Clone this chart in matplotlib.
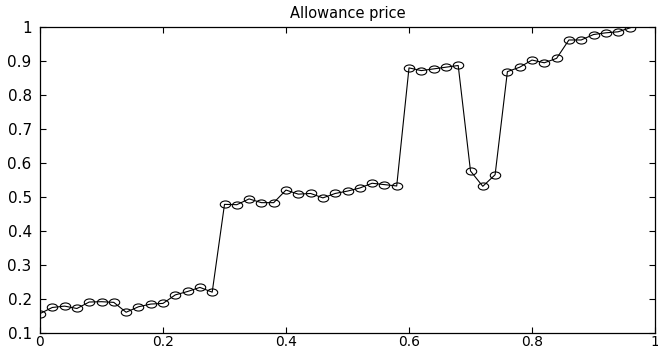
import matplotlib
matplotlib.use('Agg')
import matplotlib.pyplot as plt
from matplotlib.path import Path
from matplotlib.transforms import Affine2D

# sample points 0, 0.02, ..., 0.96
x = [i / 50 for i in range(49)]
price = [0.157, 0.175, 0.179, 0.172, 0.191, 0.192, 0.190, 0.161, 0.177, 0.185,
         0.187, 0.212, 0.222, 0.234, 0.220, 0.478, 0.477, 0.494, 0.483, 0.483,
         0.520, 0.508, 0.510, 0.497, 0.510, 0.517, 0.526, 0.540, 0.536, 0.532,
         0.879, 0.871, 0.876, 0.881, 0.886, 0.576, 0.531, 0.565, 0.868, 0.881,
         0.902, 0.894, 0.907, 0.961, 0.961, 0.977, 0.982, 0.985, 0.997]
xticks = [0, 0.2, 0.4, 0.6, 0.8, 1]
xtick_labels = ['0', '0.2', '0.4', '0.6', '0.8', '1']
yticks = [0.1, 0.2, 0.3, 0.4, 0.5, 0.6, 0.7, 0.8, 0.9, 1]
ytick_labels = ['0.1', '0.2', '0.3', '0.4', '0.5', '0.6', '0.7', '0.8', '0.9', '1']

plt.rcParams['font.family'] = 'DejaVu Sans'

# squashed circle, like the stretched matlab markers
ellipse = Path.unit_circle().transformed(Affine2D().scale(1, 0.68))

fig = plt.figure(figsize=(6.58, 3.48), dpi=100)
ax = fig.add_axes([40 / 658, 15 / 348, 615 / 658, 306.3 / 348])
ax.plot(x, price, color='black', linewidth=0.8, marker=ellipse,
        markersize=7.5, markerfacecolor='none', markeredgecolor='black',
        markeredgewidth=0.8)

ax.set_xlim(0, 1)
ax.set_ylim(0.1, 1)
ax.set_xticks(xticks)
ax.set_xticklabels(xtick_labels)
ax.set_yticks(yticks)
ax.set_yticklabels(ytick_labels)
ax.tick_params(direction='in', length=4, width=0.8, top=True, right=True)
ax.tick_params(axis='y', pad=6, labelsize=11)
# bottom labels sit right at the edge of the picture, as in the original
ax.tick_params(axis='x', pad=1.5, labelsize=10)
for s in ax.spines.values():
    s.set_linewidth(0.9)
ax.set_title('Allowance price', fontsize=10.5, pad=6)

fig.savefig('out.png', dpi=100)
